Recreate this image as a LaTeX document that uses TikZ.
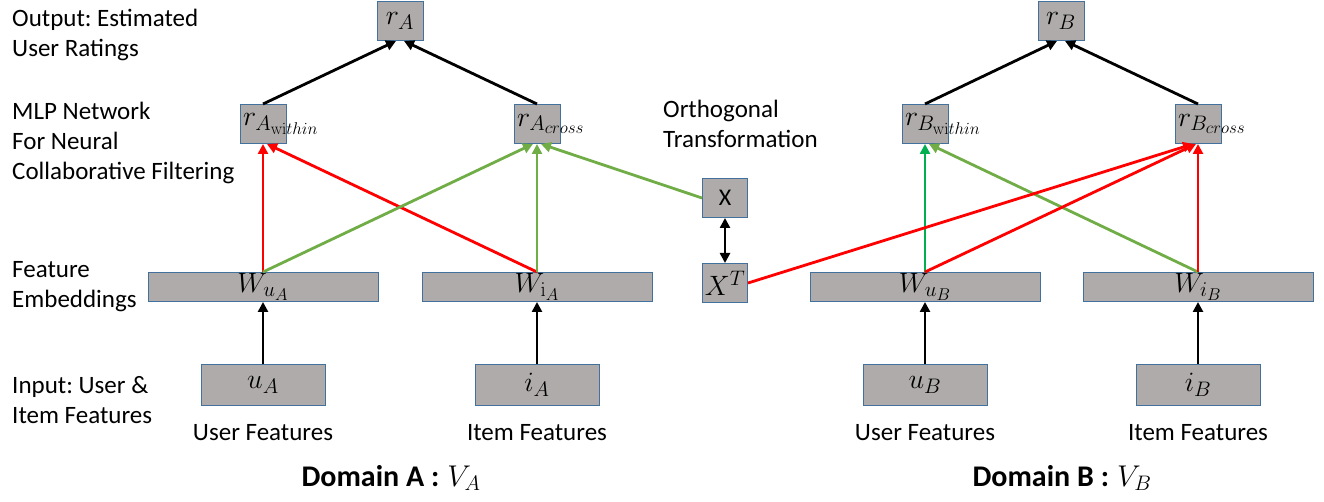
\documentclass[tikz,border=0pt]{standalone}
\usepackage{fix-cm}
\usepackage{amsmath}
\usepackage[no-math]{fontspec}
\setmainfont{Carlito}
\usepackage{tikz}
\usetikzlibrary{shapes.geometric, arrows.meta, positioning}
\DeclareMathSizes{28}{28}{21}{17}
\frenchspacing
\definecolor{boxgray}{RGB}{175,171,171}
\definecolor{boxblue}{RGB}{65,113,156}
\definecolor{lgreen}{RGB}{112,173,71}
\definecolor{dgreen}{RGB}{0,176,80}
\tikzstyle{box} = [rectangle, draw=boxblue, line width=1pt, fill=boxgray, inner sep=0pt, text centered, font=\fontsize{28}{34}\selectfont]
\tikzstyle{rating} = [box, minimum width=46pt, minimum height=39pt]
\tikzstyle{embed} = [box, minimum width=230pt, minimum height=29pt]
\tikzstyle{input} = [box, minimum width=124pt, minimum height=41pt]
\tikzstyle{orth} = [box, minimum width=45pt, minimum height=39pt]
\tikzstyle{desc} = [align=left, anchor=base west, inner sep=0pt]
\tikzstyle{caption} = [inner sep=0pt]
\tikzstyle{arrow} = [line width=2.8pt, -{Triangle[length=10pt,width=10pt]}]
\tikzstyle{darrow} = [line width=2.8pt, {Triangle[length=10pt,width=10pt]}-{Triangle[length=10pt,width=10pt]}]

\begin{document}
\begin{tikzpicture}[x=1pt, y=-1pt, node distance=98pt, font=\fontsize{25}{30}\selectfont]
		\useasboundingbox (0,0) rectangle (1324,502);
		% domain A
		\node (rA) [rating] at (400,21) {$r_A$};
		\node (rAw) [rating] at (263,124) {\makebox[40pt][l]{$r_{A_{\mathrm{wi}thin}}$}};
		\node (rAc) [rating] at (537,124) {\makebox[40pt][l]{$r_{A_{cross}}$}};
		\node (WuA) [embed, below of=rAw, yshift=-65pt] {$W_{u_A}$};
		\node (WiA) [embed, below of=rAc, yshift=-65pt] {$W_{\mathrm{i}_A}$};
		\node (uA) [input, below of=WuA] {$u_A$};
		\node (iA) [input, below of=WiA] {$i_A$};
		\node (cuA) [caption, below of=uA, yshift=50pt] {User Features};
		\node (ciA) [caption, below of=iA, yshift=50pt] {Item Features};
		% orthogonal transformation
		\node (X) [orth] at (725,198) {\fontsize{24}{30}\selectfont X};
		\node (XT) [orth, below of=X, yshift=13pt] {$X^T$};
		% domain B
		\node (rB) [rating] at (1061,21) {$r_B$};
		\node (rBw) [rating] at (925,124) {\makebox[40pt][l]{$r_{B_{\mathrm{wi}thin}}$}};
		\node (rBc) [rating] at (1198,124) {\makebox[40pt][l]{$r_{B_{cross}}$}};
		\node (WuB) [embed, below of=rBw, yshift=-65pt] {$W_{u_B}$};
		\node (WiB) [embed, below of=rBc, yshift=-65pt] {$W_{i_B}$};
		\node (uB) [input, below of=WuB] {$u_B$};
		\node (iB) [input, below of=WiB] {$i_B$};
		\node (cuB) [caption, below of=uB, yshift=50pt] {User Features};
		\node (ciB) [caption, below of=iB, yshift=50pt] {Item Features};
		% descriptions (base = last line)
		\node (d1) [desc] at (12,57) {Output: Estimated\\User Ratings};
		\node (d2) [desc] at (12,180) {MLP Network\\For Neural\\Collaborative Filtering};
		\node (d3) [desc] at (12,308) {Feature\\Embeddings};
		\node (d4) [desc] at (12,423) {Input: User \&\\Item Features};
		\node (d5) [desc] at (663,148) {Orthogonal\\Transformation};
		\node (domA) [caption] at (391,478) {\fontsize{30}{36}\selectfont\textbf{Domain A}\hspace{7pt}\textbf{:}\hspace{8pt}$V_A$};
		\node (domB) [caption] at (1062,478) {\fontsize{30}{36}\selectfont\textbf{Domain B}\hspace{7pt}\textbf{:}\hspace{8pt}$V_B$};
		
		\draw [arrow] (uA) -- (WuA);
		\draw [arrow] (iA) -- (WiA);
		\draw [arrow, red] (WuA.north) -- (rAw.south);
		\draw [arrow, red] (WiA.north) -- ([xshift=4pt]rAw.south);
		\draw [arrow, lgreen] (WuA.north) -- ([xshift=-4pt]rAc.south);
		\draw [arrow, lgreen] (WiA.north) -- (rAc.south);
		\draw [arrow, lgreen] (X.west) -- ([xshift=4pt]rAc.south);
		\draw [arrow] (rAw.north) -- ([xshift=-4pt]rA.south);
		\draw [arrow] (rAc.north) -- ([xshift=4pt]rA.south);
		\draw [darrow] (X) -- (XT);
		\draw [arrow] (uB) -- (WuB);
		\draw [arrow] (iB) -- (WiB);
		\draw [arrow, dgreen] (WuB.north) -- (rBw.south);
		\draw [arrow, lgreen] (WiB.north) -- ([xshift=4pt]rBw.south);
		\draw [arrow, red] (XT.east) -- ([xshift=-5pt]rBc.south);
		\draw [arrow, red] (WuB.north) -- ([xshift=-2pt]rBc.south);
		\draw [arrow, red] (WiB.north) -- (rBc.south);
		\draw [arrow] (rBw.north) -- ([xshift=-4pt]rB.south);
		\draw [arrow] (rBc.north) -- ([xshift=4pt]rB.south);
		\end{tikzpicture}
\end{document}
